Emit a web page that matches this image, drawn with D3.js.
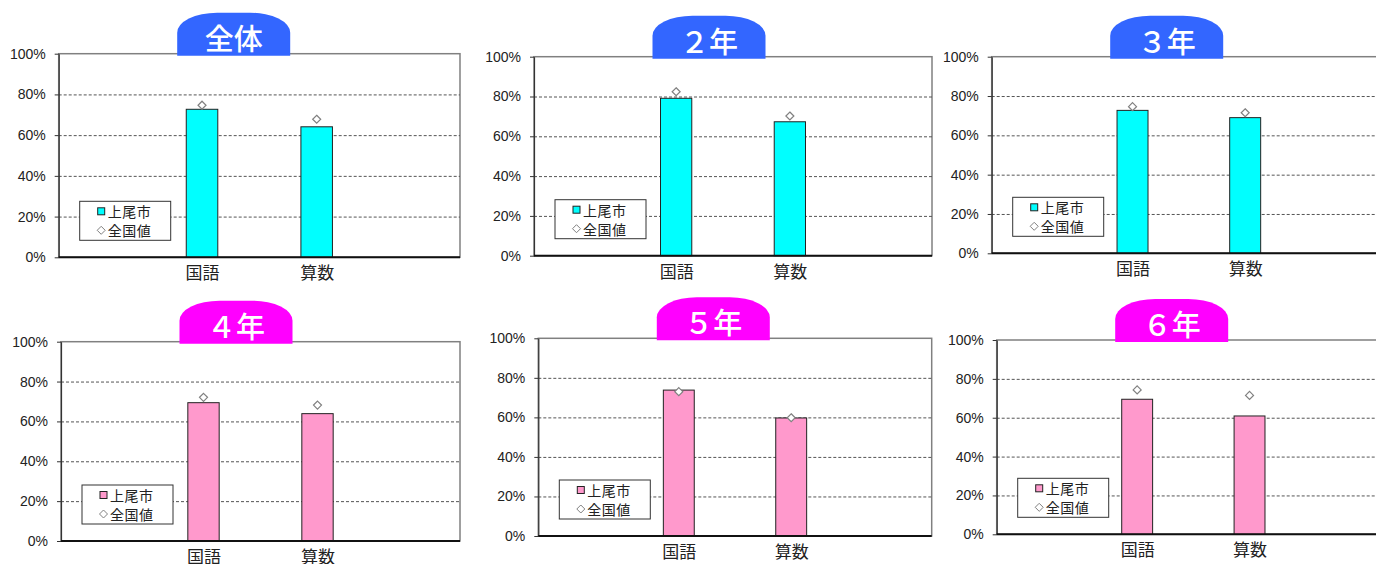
<!DOCTYPE html>
<html lang="ja">
<head>
<meta charset="utf-8">
<script src="https://cdn.jsdelivr.net/npm/d3@7"></script>
<style>
  html, body { margin: 0; padding: 0; background: #fff; }
  svg { display: block; }
  .ytick text { font-family: "Liberation Sans", Arial, sans-serif; font-size: 14px; fill: #222; }
  .xlab { font-family: "Noto Sans CJK JP", sans-serif; font-size: 17px; fill: #222; }
  .leg { font-family: "Noto Sans CJK JP", sans-serif; font-size: 14px; fill: #222; }
  .tabtxt { font-family: "Noto Sans CJK JP", sans-serif; font-size: 29px; font-weight: 500; fill: #fff; }
</style>
</head>
<body>
<svg id="chart" width="1376" height="564"></svg>
<script>
// Panel titles (overall, then grades 2-6)
const panelTitles = ["全体", "２年", "３年", "４年", "５年", "６年"];
// Subjects on the x axis
const subjects = ["国語", "算数"];
// Series names
const seriesNames = ["上尾市", "全国値"];
// 上尾市 correct-answer rate (%) per panel: [国語, 算数]
const cityValues = [
  [72.7, 64.1],
  [79.1, 67.3],
  [72.7, 69.0],
  [69.4, 63.9],
  [73.8, 59.7],
  [69.5, 60.9]
];
// 全国値 (national average, %) per panel: [国語, 算数]
const nationalValues = [
  [74.7, 67.8],
  [82.4, 70.2],
  [74.6, 71.5],
  [72.1, 68.2],
  [73.0, 59.8],
  [74.3, 71.5]
];
// Y axis tick values (%)
const yTicks = [0, 20, 40, 60, 80, 100];

// Layout: plot rectangles for the 2x3 grid
const plots = [
  { x0: 58.7, y0: 53.7, x1: 460,  y1: 257.3 },
  { x0: 534,  y0: 56.7, x1: 932,  y1: 255.7 },
  { x0: 991.7, y0: 56.7, x1: 1386, y1: 253.3 },
  { x0: 61,   y0: 341.7, x1: 460, y1: 541 },
  { x0: 538.3, y0: 338.3, x1: 931.7, y1: 536 },
  { x0: 996.7, y0: 340, x1: 1390, y1: 534.3 }
];
const tabColors = ["#3366ff", "#3366ff", "#3366ff", "#ff00ff", "#ff00ff", "#ff00ff"];
const barColors = ["#00ffff", "#00ffff", "#00ffff", "#ff99cc", "#ff99cc", "#ff99cc"];

const svg = d3.select("#chart");

function diamondPath(r) {
  return `M0,${-r}L${r},0L0,${r}L${-r},0Z`;
}

plots.forEach((p, i) => {
  const w = p.x1 - p.x0, h = p.y1 - p.y0;
  const g = svg.append("g").attr("transform", `translate(${p.x0},${p.y0})`);

  const y = d3.scaleLinear().domain([0, 100]).range([h, 0]);
  const x = d3.scalePoint().domain(subjects).range([0, w]).padding(1.25);
  const barW = x.step() * 0.275;

  // plot frame
  g.append("rect").attr("width", w).attr("height", h)
    .attr("fill", "#fff").attr("stroke", "#808080").attr("stroke-width", 1.5);

  // dashed gridlines
  const grid = g.append("g").call(
    d3.axisLeft(y).tickValues(yTicks.filter(t => t > 0 && t < 100)).tickSize(-w).tickFormat("")
  );
  grid.select(".domain").remove();
  grid.selectAll("line").attr("stroke", "#555").attr("stroke-dasharray", "3,2").attr("stroke-width", 1);

  // y axis
  const ya = g.append("g").attr("class", "ytick").call(
    d3.axisLeft(y).tickValues(yTicks).tickFormat(d => d + "%").tickSize(4).tickSizeOuter(0).tickPadding(9)
  );
  ya.select(".domain").attr("stroke", "#333").attr("stroke-width", 1.2);
  ya.selectAll(".tick line").attr("stroke", "#333");
  ya.selectAll("text").attr("font-family", null).attr("font-size", null).attr("fill", null);

  // bars
  g.selectAll("rect.bar").data(subjects).join("rect")
    .attr("class", "bar")
    .attr("x", d => x(d) - barW / 2)
    .attr("width", barW)
    .attr("y", (d, j) => y(cityValues[i][j]))
    .attr("height", (d, j) => h - y(cityValues[i][j]))
    .attr("fill", barColors[i]).attr("stroke", "#222").attr("stroke-width", 1);

  // x axis baseline
  g.append("line").attr("x1", 0).attr("x2", w).attr("y1", h).attr("y2", h)
    .attr("stroke", "#111").attr("stroke-width", 2);

  // x labels
  const xa = g.append("g").attr("transform", `translate(0,${h})`)
    .call(d3.axisBottom(x).tickSize(0).tickPadding(10));
  xa.select(".domain").remove();
  xa.selectAll("text").attr("class", "xlab").attr("font-family", null).attr("font-size", null).attr("fill", null);

  // national average markers
  g.selectAll("path.nat").data(subjects).join("path")
    .attr("class", "nat")
    .attr("transform", (d, j) => `translate(${x(d)},${y(nationalValues[i][j])})`)
    .attr("d", diamondPath(4))
    .attr("fill", "#fff").attr("stroke", "#808080").attr("stroke-width", 1.2);

  // legend
  const lw = 91, lh = 39;
  const lg = g.append("g").attr("transform", `translate(21,${h - 17 - lh})`);
  lg.append("rect").attr("width", lw).attr("height", lh)
    .attr("fill", "#fff").attr("stroke", "#333").attr("stroke-width", 1);
  lg.append("rect").attr("x", 18).attr("y", 6.5).attr("width", 7).attr("height", 7)
    .attr("fill", barColors[i]).attr("stroke", "#222").attr("stroke-width", 1);
  lg.append("text").attr("class", "leg").attr("x", 28).attr("y", 10).attr("dominant-baseline", "central")
    .attr("letter-spacing", "0.5").text(seriesNames[0]);
  lg.append("path").attr("transform", "translate(21.5,29)").attr("d", diamondPath(4))
    .attr("fill", "#fff").attr("stroke", "#808080").attr("stroke-width", 1);
  lg.append("text").attr("class", "leg").attr("x", 28).attr("y", 29).attr("dominant-baseline", "central")
    .attr("letter-spacing", "0.5").text(seriesNames[1]);

  // title tab
  const tw = 113, tTop = -41, tBot = 2, cx = 175, rx = 40, ry = 20;
  const l = cx - tw / 2, r = cx + tw / 2;
  g.append("path")
    .attr("d", `M${l},${tBot}V${tTop + ry}A${rx},${ry} 0 0 1 ${l + rx},${tTop}H${r - rx}A${rx},${ry} 0 0 1 ${r},${tTop + ry}V${tBot}Z`)
    .attr("fill", tabColors[i]);
  g.append("text").attr("class", "tabtxt").attr("x", cx).attr("y", -17)
    .attr("text-anchor", "middle").attr("dominant-baseline", "central")
    .text(panelTitles[i]);
});
</script>
</body>
</html>
